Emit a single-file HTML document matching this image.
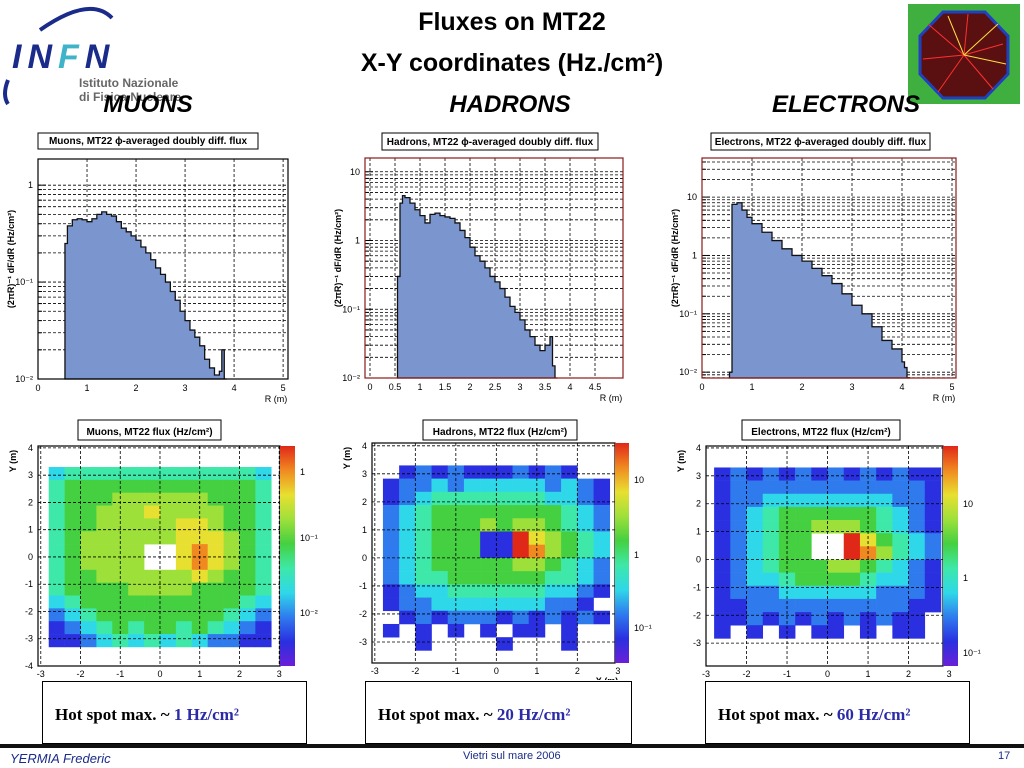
<!DOCTYPE html>
<html><head><meta charset="utf-8">
<style>
body{margin:0;width:1024px;height:768px;background:#fff;overflow:hidden;position:relative;font-family:"Liberation Sans",sans-serif;}
.abs{position:absolute;}
.sec{position:absolute;font:italic bold 24px "Liberation Sans",sans-serif;color:#000;width:200px;text-align:center;}
.hot{position:absolute;border:1px solid #000;background:#fff;height:61px;top:681px;}
.hot span.t{position:absolute;left:12px;top:23px;font:bold 17px "Liberation Serif",serif;white-space:nowrap;}
.hot b.v{color:#2b2ba8;}
</style></head><body>

<div class="abs" style="left:0;top:0;width:190px;height:110px;">
<svg width="190" height="110"><path d="M40 30 Q90 -5 112 18" stroke="#1a2b8a" stroke-width="4" fill="none"/><path d="M8 80 Q2 95 8 104" stroke="#1a2b8a" stroke-width="4" fill="none"/></svg>
<div class="abs" style="left:12px;top:38px;font:italic bold 34px 'Liberation Sans',sans-serif;color:#1a2b8a;letter-spacing:6px;">IN<span style="color:#3fb4c8">F</span>N</div>
<div class="abs" style="left:79px;top:76px;font:bold 12px 'Liberation Sans',sans-serif;color:#666;">Istituto Nazionale</div>
<div class="abs" style="left:79px;top:90px;font:bold 12px 'Liberation Sans',sans-serif;color:#666;">di Fisica Nucleare</div>
</div>

<div class="abs" style="left:0;width:1024px;top:8px;text-align:center;font:bold 25px 'Liberation Sans',sans-serif;">Fluxes on MT22</div>
<div class="abs" style="left:0;width:1024px;top:49px;text-align:center;font:bold 25px 'Liberation Sans',sans-serif;">X-Y coordinates (Hz./cm²)</div>

<svg class="abs" style="left:908px;top:4px" width="112" height="100">
<rect x="0" y="0" width="112" height="100" fill="#3fb040"/>
<polygon points="35,8 77,8 100,32 100,70 77,94 35,94 12,70 12,32" fill="#5a1010" stroke="#2040c0" stroke-width="3"/>
<g stroke="#ff3030" stroke-width="1"><line x1="56" y1="51" x2="20" y2="20"/><line x1="56" y1="51" x2="95" y2="40"/><line x1="56" y1="51" x2="30" y2="88"/><line x1="56" y1="51" x2="85" y2="85"/><line x1="56" y1="51" x2="60" y2="10"/><line x1="56" y1="51" x2="15" y2="55"/></g>
<g stroke="#ffe040" stroke-width="1"><line x1="56" y1="51" x2="90" y2="20"/><line x1="56" y1="51" x2="40" y2="12"/><line x1="56" y1="51" x2="98" y2="60"/></g>
</svg>

<div class="sec" style="left:48px;top:91px;">MUONS</div>
<div class="sec" style="left:410px;top:91px;">HADRONS</div>
<div class="sec" style="left:746px;top:91px;">ELECTRONS</div>

<svg id="charts" class="abs" style="left:0;top:0" width="1024" height="680"></svg>

<div class="hot" style="left:42px;width:263px;"><span class="t">Hot spot max. ~ <b class="v">1 Hz/cm²</b></span></div>
<div class="hot" style="left:365px;width:265px;"><span class="t">Hot spot max. ~ <b class="v">20 Hz/cm²</b></span></div>
<div class="hot" style="left:705px;width:263px;"><span class="t">Hot spot max. ~ <b class="v">60 Hz/cm²</b></span></div>

<div class="abs" style="left:0;top:744px;width:1024px;height:4px;background:#111;"></div>
<div class="abs" style="left:10px;top:751px;font:italic 13px 'Liberation Sans',sans-serif;color:#1a2b8a;">YERMIA Frederic</div>
<div class="abs" style="left:463px;top:750px;font:11px 'Liberation Sans',sans-serif;color:#1a2b8a;">Vietri sul mare 2006</div>
<div class="abs" style="left:998px;top:750px;font:11px 'Liberation Sans',sans-serif;color:#1a2b8a;">17</div>

<script>
// ---- histogram data (R in m, flux) ----
const muR = [0.55,0.6,0.7,0.8,0.9,1.0,1.1,1.2,1.3,1.4,1.5,1.6,1.7,1.8,1.9,2.0,2.1,2.2,2.3,2.4,2.5,2.6,2.7,2.8,2.9,3.0,3.1,3.2,3.3,3.4,3.5,3.6,3.7,3.75,3.8];
const muF = [0.25,0.38,0.44,0.45,0.44,0.42,0.45,0.5,0.53,0.5,0.48,0.42,0.36,0.33,0.3,0.27,0.23,0.2,0.17,0.14,0.12,0.1,0.08,0.065,0.05,0.04,0.032,0.027,0.022,0.016,0.013,0.011,0.012,0.02,0.01];
const haR = [0.55,0.6,0.65,0.7,0.8,0.9,1.0,1.1,1.2,1.3,1.4,1.5,1.6,1.7,1.8,1.9,2.0,2.1,2.2,2.3,2.4,2.5,2.6,2.7,2.8,2.9,3.0,3.1,3.2,3.3,3.4,3.5,3.6,3.65,3.7];
const haF = [0.3,3.5,4.5,4.2,3.5,2.8,2.3,1.8,2.4,2.5,2.3,2.2,2.1,1.8,1.4,1.1,0.8,0.6,0.5,0.4,0.3,0.25,0.2,0.15,0.11,0.09,0.07,0.05,0.04,0.03,0.025,0.03,0.04,0.015,0.01];
const elR = [0.55,0.6,0.7,0.8,0.9,1.0,1.2,1.4,1.6,1.8,2.0,2.2,2.4,2.6,2.8,3.0,3.2,3.4,3.6,3.8,4.0,4.05,4.1];
const elF = [0.01,7.5,8,6,4.5,3.5,2.5,1.8,1.3,1.0,0.8,0.6,0.45,0.33,0.22,0.14,0.1,0.06,0.035,0.025,0.015,0.012,0.008];
const histXTicks = [0,1,2,3,4,5];
const hadXTicks = [0,0.5,1,1.5,2,2.5,3,3.5,4,4.5];

// ---- heatmap data: colour level 0-9 per cell, '.' empty; x -2.8..2.8, y 3.3..-3.3 ----
const muMap = ["34444444444443","45555555555554","45556666665554","45566676666554","45566666776554","45666666777654","456666..787654","456666..787654","45566666676554","45555666655554","34555555555543","23455555555432","12345455454321","11234343432211"];
const haMap = [".12121112121..","12232333332321","12344444443321","23455555555432","23455565665432","23455511976543","23455511986543","23455555665432","23445555554432","12334444443321","1223333333221.",".1212221212121","1.1.1.1.11.1..","..1....1...1.."];
const elMap = ["12121212121211","12222222222221","12233333333221","12345555554321","12345566654321","123455..975432","123455..986432","12345556654321","12334555543321","12223333332221","11222222222211","1121212121211.","1.1.1.11.1.11.",".............."];
const mapTicksX = [-3,-2,-1,0,1,2,3];
const mapTicksY = [-4,-3,-2,-1,0,1,2,3,4];
const palette = ['#6a1fd8','#2a30e0','#2f7bee','#2fd8e8','#3ee8a8','#44d040','#9ee03a','#e8e030','#f08a20','#e02818'];

const svg = document.getElementById('charts');
const NS = 'http://www.w3.org/2000/svg';
function mk(tag, attrs, parent){const e=document.createElementNS(NS,tag);for(const k in attrs)e.setAttribute(k,attrs[k]);(parent||svg).appendChild(e);return e;}
function txt(x,y,s,size,anchor,parent,extra){const t=mk('text',Object.assign({x:x,y:y,'font-size':size,'font-family':'Liberation Sans, sans-serif','text-anchor':anchor||'middle'},extra||{}),parent);t.textContent=s;return t;}

function titleBox(x0,x1,y0,y1,label,name){
  const g=mk('g',{});
  
  
  mk('rect',{x:x0,y:y0,width:x1-x0,height:y1-y0,fill:'#fff',stroke:'#000','stroke-width':1},g);
  txt((x0+x1)/2,y1-5,label,10,'middle',g,{'font-weight':'bold'});
}

function hist(cfg){
  const g=mk('g',{});
  
  
  const sx=v=>cfg.x0+(v-cfg.xmin)/(cfg.xmax-cfg.xmin)*(cfg.x1-cfg.x0);
  const sy=v=>{const l=Math.log10(Math.max(v,Math.pow(10,cfg.lmin)));return cfg.y1-(l-cfg.lmin)/(cfg.lmax-cfg.lmin)*(cfg.y1-cfg.y0);};
  mk('rect',{x:cfg.x0,y:cfg.y0,width:cfg.x1-cfg.x0,height:cfg.y1-cfg.y0,fill:'#fff'},g);
  for(let d=Math.floor(cfg.lmin);d<=Math.ceil(cfg.lmax);d++){for(let m=1;m<10;m++){const v=m*Math.pow(10,d);const l=Math.log10(v);if(l<cfg.lmin-0.001||l>=cfg.lmax)continue;const y=sy(v);
    mk('line',{x1:cfg.x0,x2:cfg.x1,y1:y,y2:y,stroke:'#000','stroke-width':0.8,'stroke-dasharray':'3,2'},g);
    mk('line',{x1:cfg.x0,x2:cfg.x0+(m==1?8:4),y1:y,y2:y,stroke:'#000'},g);
    if(m==1){const lab=d==0?'1':(d==1?'10':'10'+(d<0?'\u207B'+['','\u00B9','\u00B2'][-d]:''));txt(cfg.x0-5,y+3,lab,9,'end',g);} }}
  cfg.ticks.forEach(t=>{const x=sx(t);if(t>cfg.xmin&&t<cfg.xmax)mk('line',{x1:x,x2:x,y1:cfg.y0,y2:cfg.y1,stroke:'#000','stroke-width':0.8,'stroke-dasharray':'3,2'},g);txt(x,cfg.y1+12,String(t),9,'middle',g);});
  let pts=[[sx(cfg.R[0]),cfg.y1]];
  for(let i=0;i<cfg.R.length;i++){const xl=sx(cfg.R[i]);const xr=sx(i<cfg.R.length-1?cfg.R[i+1]:cfg.R[i]+0.05);const y=sy(cfg.F[i]);pts.push([xl,y],[xr,y]);}
  pts.push([pts[pts.length-1][0],cfg.y1]);
  const p=mk('polygon',{points:pts.map(a=>a.join(',')).join(' '),fill:'#7b96cf',stroke:'#111','stroke-width':1.3},g);
  
  
  mk('rect',{x:cfg.x0,y:cfg.y0,width:cfg.x1-cfg.x0,height:cfg.y1-cfg.y0,fill:'none',stroke:cfg.border||'#000','stroke-width':1.2},g);
  txt(cfg.x1-12,cfg.y1+23,'R (m)',9,'middle',g);
  const yt=txt(0,0,'(2\u03C0R)\u207B\u00B9 dF/dR (Hz/cm\u00B2)',9,'middle',g,{transform:'translate('+(cfg.x0-24)+','+((cfg.y0+cfg.y1)/2-10)+') rotate(-90)','font-weight':'bold'});
  
  
}

function heat(cfg){
  const g=mk('g',{});
  
  
  const sx=v=>cfg.x0+(v-cfg.xmin)/(cfg.xmax-cfg.xmin)*(cfg.x1-cfg.x0);
  const sy=v=>cfg.y1-(v-cfg.ymin)/(cfg.ymax-cfg.ymin)*(cfg.y1-cfg.y0);
  mk('rect',{x:cfg.x0,y:cfg.y0,width:cfg.x1-cfg.x0,height:cfg.y1-cfg.y0,fill:'#fff'},g);
  const rows=cfg.map.length, cols=cfg.map[0].length;
  const dx=5.6/cols, dy=6.6/rows;
  for(let r=0;r<rows;r++)for(let c=0;c<cols;c++){const ch=cfg.map[r][c];if(ch==='.')continue;
    const xa=sx(-2.8+c*dx), xb=sx(-2.8+(c+1)*dx), ya=sy(3.3-r*dy), yb=sy(3.3-(r+1)*dy);
    const cell=mk('rect',{x:xa,y:ya,width:xb-xa+0.3,height:yb-ya+0.3,fill:palette[+ch]},g);
    
    }
  mapTicksX.forEach(t=>{const x=sx(t);if(t>cfg.xmin&&t<cfg.xmax)mk('line',{x1:x,x2:x,y1:cfg.y0,y2:cfg.y1,stroke:'#000','stroke-width':0.8,'stroke-dasharray':'3,2'},g);txt(x,cfg.y1+11,String(t),9,'middle',g);});
  mapTicksY.forEach(t=>{if(t<cfg.ymin-0.01||t>cfg.ymax)return;const y=sy(t);if(t>cfg.ymin&&t<cfg.ymax)mk('line',{x1:cfg.x0,x2:cfg.x1,y1:y,y2:y,stroke:'#000','stroke-width':0.8,'stroke-dasharray':'3,2'},g);txt(cfg.x0-5,y+3,String(t),9,'end',g);});
  mk('rect',{x:cfg.x0,y:cfg.y0,width:cfg.x1-cfg.x0,height:cfg.y1-cfg.y0,fill:'none',stroke:'#000','stroke-width':1.2},g);
  const gid='cb'+cfg.name;
  const lg=mk('linearGradient',{id:gid,x1:0,y1:1,x2:0,y2:0},g);
  palette.forEach((c,i)=>mk('stop',{offset:i/(palette.length-1),'stop-color':c},lg));
  const cb=mk('rect',{x:cfg.x1,y:cfg.y0,width:cfg.cbw,height:cfg.y1-cfg.y0,fill:'url(#'+gid+')'},g);
  
  
  cfg.cbLabels.forEach((s,i)=>txt(cfg.x1+cfg.cbw+5,cfg.cbY[i]+3,s,9,'start',g));
  txt(cfg.x1-8,cfg.y1+21,'X (m)',9,'middle',g,{'font-weight':'bold'});
  txt(0,0,'Y (m)',9,'middle',g,{transform:'translate('+(cfg.x0-22)+','+(cfg.y0+15)+') rotate(-90)','font-weight':'bold'});
}

titleBox(38,258,133,149,'Muons, MT22 \u03D5-averaged doubly diff. flux','muons-hist-title');
titleBox(382,598,133,150,'Hadrons, MT22 \u03D5-averaged doubly diff. flux','hadrons-hist-title');
titleBox(711,930,133,150,'Electrons, MT22 \u03D5-averaged doubly diff. flux','electrons-hist-title');
hist({name:'muons-hist',x0:38,x1:288,y0:159,y1:379,xmin:0,xmax:5.1,lmin:-2,lmax:0.27,ticks:histXTicks,R:muR,F:muF});
hist({name:'hadrons-hist',x0:365,x1:623,y0:158,y1:378,xmin:-0.1,xmax:5.06,lmin:-2,lmax:1.2,ticks:hadXTicks,R:haR,F:haF,border:'#8a1a1a'});
hist({name:'electrons-hist',x0:702,x1:956,y0:158,y1:378,xmin:0,xmax:5.08,lmin:-2.1,lmax:1.67,ticks:histXTicks,R:elR,F:elF,border:'#8a1a1a'});

titleBox(78,221,420,440,'Muons, MT22 flux (Hz/cm\u00B2)','muons-map-title');
titleBox(423,577,420,440,'Hadrons, MT22 flux (Hz/cm\u00B2)','hadrons-map-title');
titleBox(742,900,420,440,'Electrons, MT22 flux (Hz/cm\u00B2)','electrons-map-title');
heat({name:'muons-map',x0:38,x1:280,y0:446,y1:666,xmin:-3.07,xmax:3.02,ymin:-4,ymax:4.07,map:muMap,cbw:15,cbLabels:['1','10\u207B\u00B9','10\u207B\u00B2'],cbY:[472,538,613]});
heat({name:'hadrons-map',x0:372,x1:615,y0:443,y1:663,xmin:-3.07,xmax:2.93,ymin:-3.75,ymax:4.1,map:haMap,cbw:14,cbLabels:['10','1','10\u207B\u00B9'],cbY:[480,555,628]});
heat({name:'electrons-map',x0:706,x1:943,y0:446,y1:666,xmin:-3,xmax:2.85,ymin:-3.82,ymax:4.07,map:elMap,cbw:15,cbLabels:['10','1','10\u207B\u00B9'],cbY:[504,578,653]});
</script>
</body></html>
